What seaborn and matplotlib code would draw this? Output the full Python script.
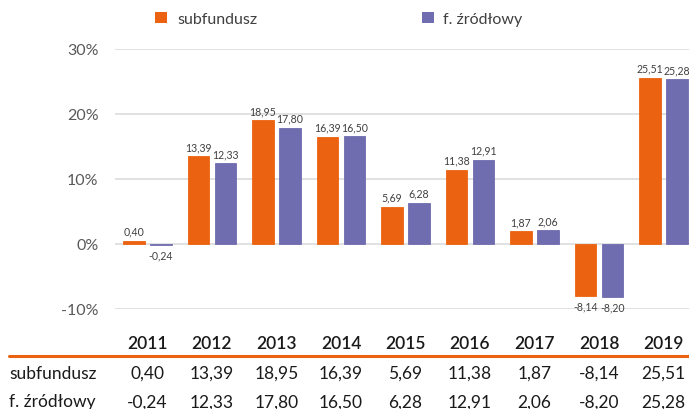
import matplotlib
matplotlib.use("Agg")
import matplotlib.pyplot as plt
import matplotlib.transforms as mtransforms
from matplotlib.patches import Patch
import seaborn as sns
import pandas as pd

years = ["2011", "2012", "2013", "2014", "2015", "2016", "2017", "2018", "2019"]
series_names = ["subfundusz", "f. źródłowy"]
subfundusz = [0.40, 13.39, 18.95, 16.39, 5.69, 11.38, 1.87, -8.14, 25.51]
zrodlowy = [-0.24, 12.33, 17.80, 16.50, 6.28, 12.91, 2.06, -8.20, 25.28]
y_ticks = [-10, 0, 10, 20, 30]
colors = ["#EB6310", "#6F6CAF"]

sns.set_theme(style="white")
plt.rcParams["font.family"] = ["Lato", "DejaVu Sans"]

df = pd.DataFrame({
    "year": years * 2,
    "series": [series_names[0]] * len(years) + [series_names[1]] * len(years),
    "value": subfundusz + zrodlowy,
})

W, H = 689, 410
fig = plt.figure(figsize=(W / 100, H / 100), dpi=100)
ax_left = 115.25 / W
ax_w = 580.5 / W
ax_bottom = (H - 309.5) / H
ax_h = 260 / H
ax = fig.add_axes([ax_left, ax_bottom, ax_w, ax_h])

for t in y_ticks:
    ax.axhline(t, color="#D9D9D9", lw=1.1, zorder=0)

sns.barplot(data=df, x="year", y="value", hue="series", hue_order=series_names,
            order=years, palette=colors, width=0.837, gap=0.2, ax=ax,
            legend=False, saturation=1, zorder=3)
for cont, c in zip(ax.containers, colors):
    for bar in cont:
        bar.set_edgecolor(c)
        bar.set_linewidth(0.6)

ax.set_ylim(-10, 30)
ax.set_xlim(-0.5, len(years) - 0.5)
ax.set_yticks(y_ticks)
ax.set_yticklabels([f"{t}%" for t in y_ticks], fontsize=11.5, color="#595959")
ax.tick_params(axis="y", length=0, pad=12)
ax.set_xticks([])
ax.set_xlabel("")
ax.set_ylabel("")
for s in ax.spines.values():
    s.set_visible(False)
ax.grid(False)

# bar value labels
for cont in ax.containers:
    for bar in cont:
        h = bar.get_height()
        x = bar.get_x() + bar.get_width() / 2
        lab = f"{h:.2f}".replace(".", ",")
        if h >= 0:
            ax.annotate(lab, (x, h), xytext=(0, 3), textcoords="offset points",
                        ha="center", va="bottom", fontsize=7.6, color="#404040",
                        annotation_clip=False)
        else:
            ax.annotate(lab, (x, h), xytext=(0, -3), textcoords="offset points",
                        ha="center", va="top", fontsize=7.6, color="#404040",
                        annotation_clip=False)

# legend
handles = [Patch(facecolor=c, edgecolor="none") for c in colors]
fig.legend(handles, series_names, loc="center left",
           bbox_to_anchor=(141 / W, 1 - 20 / H), ncol=2, frameon=False,
           fontsize=11.5, handlelength=0.75, handleheight=0.75,
           handletextpad=0.6, columnspacing=10.3, labelcolor="#404040")

# data table
trans = mtransforms.blended_transform_factory(ax.transData, fig.transFigure)
row_y = [1 - 344 / H, 1 - 374 / H, 1 - 402.5 / H]
for i, y in enumerate(years):
    ax.text(i, row_y[0], y, transform=trans, ha="center", va="center",
            fontsize=12.5, fontweight="semibold", color="#1A1A1A", clip_on=False)
    ax.text(i, row_y[1], f"{subfundusz[i]:.2f}".replace(".", ","), transform=trans,
            ha="center", va="center", fontsize=12.5, color="#1A1A1A", clip_on=False)
    ax.text(i, row_y[2], f"{zrodlowy[i]:.2f}".replace(".", ","), transform=trans,
            ha="center", va="center", fontsize=12.5, color="#1A1A1A", clip_on=False)
for name, y in zip(series_names, row_y[1:]):
    fig.text(9 / W, y, name, ha="left", va="center", fontsize=12.5, color="#1A1A1A")

fig.add_artist(plt.Line2D([9 / W, 1.0], [1 - 357 / H, 1 - 357 / H],
                          transform=fig.transFigure, color=colors[0], lw=2.2))

fig.savefig("out.png", dpi=100)
